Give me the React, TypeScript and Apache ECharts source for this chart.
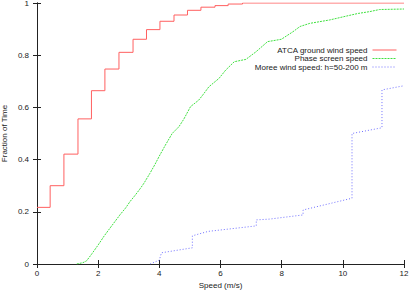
import React, { useEffect, useRef } from "react";
import * as echarts from "echarts";

const seriesNames = [
  "ATCA ground wind speed",
  "Phase screen speed",
  "Moree wind speed: h=50-200 m",
];

// ATCA ground wind speed: CDF steps [speed, fraction]
const atcaSteps: [number, number][] = [
  [0, 0.217], [0.43, 0.3], [0.88, 0.421], [1.34, 0.556], [1.78, 0.664],
  [2.22, 0.747], [2.68, 0.811], [3.14, 0.861], [3.58, 0.898], [4.02, 0.93],
  [4.48, 0.954], [4.92, 0.972], [5.36, 0.984], [5.82, 0.99], [6.25, 0.996],
  [6.72, 1.0], [12, 1.0],
];

// Phase screen speed CDF
const phaseScreen: [number, number][] = [
  [1.3, 0], [1.5, 0.005], [1.62, 0.012], [1.8, 0.04], [2.0, 0.073],
  [2.2, 0.108], [2.39, 0.138], [2.55, 0.163], [2.71, 0.188], [2.9, 0.215],
  [3.04, 0.239], [3.2, 0.262], [3.37, 0.288], [3.5, 0.31], [3.69, 0.347],
  [3.85, 0.38], [4.02, 0.418], [4.2, 0.456], [4.42, 0.5], [4.64, 0.526],
  [4.8, 0.555], [5.02, 0.603], [5.29, 0.628], [5.45, 0.652], [5.62, 0.679],
  [5.95, 0.711], [6.17, 0.743], [6.45, 0.775], [6.83, 0.784], [7.16, 0.813],
  [7.54, 0.852], [7.99, 0.861], [8.37, 0.89], [8.6, 0.91], [8.92, 0.922],
  [9.57, 0.935], [10.12, 0.95], [10.5, 0.96], [10.88, 0.967], [11.2, 0.975],
  [12, 0.977],
];

// Moree wind speed CDF
const moree: [number, number][] = [
  [3.7, 0], [4.0, 0.015], [4.07, 0.043], [5.08, 0.062], [5.08, 0.108],
  [5.6, 0.125], [7.17, 0.146], [7.17, 0.169], [7.6, 0.172], [8.7, 0.188],
  [8.7, 0.207], [10.3, 0.252], [10.3, 0.5], [11.28, 0.522], [11.28, 0.667],
  [12, 0.683],
];

const xTicks = { min: 0, max: 12, interval: 2 };
const yTicks = { min: 0, max: 1, interval: 0.2 };

const FONT = "Liberation Sans, Arial, Helvetica, sans-serif";
const TXT = "#1a1a1a";
const AX = "#222";

export default function App() {
  const ref = useRef<HTMLDivElement>(null);
  useEffect(() => {
    if (!ref.current) return;
    const chart = echarts.init(ref.current, undefined, { renderer: "svg" });
    const fmtY = (v: number) => (Math.round(v * 10) / 10).toString();
    chart.setOption({
      animation: false,
      textStyle: { fontFamily: FONT },
      grid: {
        left: 37,
        right: 5,
        top: 3,
        bottom: 26,
        containLabel: false,
        outerBoundsMode: "none",
      },
      legend: {
        orient: "vertical",
        right: 12,
        top: 46,
        align: "right",
        itemWidth: 24,
        itemHeight: 8,
        itemGap: 0.5,
        padding: 0,
        itemStyle: { opacity: 0 },
        lineStyle: { width: 1 },
        textStyle: { fontSize: 8, lineHeight: 8, color: TXT, fontFamily: FONT, padding: 0 },
        data: seriesNames,
      },
      xAxis: [
        {
          type: "value",
          position: "bottom",
          ...xTicks,
          name: "Speed (m/s)",
          nameLocation: "middle",
          nameGap: 15,
          nameTextStyle: { fontSize: 8, color: TXT, fontFamily: FONT },
          axisLine: { lineStyle: { color: AX, width: 1 } },
          axisTick: { inside: true, length: 4, lineStyle: { color: AX } },
          axisLabel: { fontSize: 8, color: TXT, margin: 5, fontFamily: FONT },
          splitLine: { show: false },
        },
        {
          type: "value",
          position: "top",
          ...xTicks,
          axisLine: { lineStyle: { color: AX, width: 1 } },
          axisTick: { inside: true, length: 4, lineStyle: { color: AX } },
          axisLabel: { show: false },
          splitLine: { show: false },
        },
      ],
      yAxis: [
        {
          type: "value",
          position: "left",
          ...yTicks,
          name: "Fraction of Time",
          nameLocation: "middle",
          nameGap: 28,
          nameMoveOverlap: false,
          nameTextStyle: { fontSize: 8, lineHeight: 9, color: TXT, fontFamily: FONT },
          axisLine: { show: true, lineStyle: { color: AX, width: 1 } },
          axisTick: { show: true, inside: true, length: 4, lineStyle: { color: AX } },
          axisLabel: { fontSize: 8, color: TXT, margin: 8, fontFamily: FONT, formatter: fmtY },
          splitLine: { show: false },
        },
        {
          type: "value",
          position: "right",
          ...yTicks,
          axisLine: { show: true, lineStyle: { color: AX, width: 1 } },
          axisTick: { show: true, inside: true, length: 4, lineStyle: { color: AX } },
          axisLabel: { show: false },
          splitLine: { show: false },
        },
      ],
      series: [
        {
          name: seriesNames[0],
          type: "line",
          step: "end",
          data: atcaSteps,
          showSymbol: false,
          symbol: "none",
          lineStyle: { color: "#ff6060", width: 1 },
          itemStyle: { color: "#ff6060" },
          z: 3,
        },
        {
          name: seriesNames[1],
          type: "line",
          data: phaseScreen,
          showSymbol: false,
          symbol: "none",
          lineStyle: { color: "#40e040", width: 1, type: [2, 1] },
          itemStyle: { color: "#40e040" },
          z: 2,
        },
        {
          name: seriesNames[2],
          type: "line",
          data: moree,
          showSymbol: false,
          symbol: "none",
          lineStyle: { color: "#7070ff", width: 1, type: [1, 2] },
          itemStyle: { color: "#7070ff" },
          z: 2,
        },
      ],
    });
    return () => chart.dispose();
  }, []);
  return (
    <div
      ref={ref}
      style={{ position: "fixed", left: 0, top: 0, width: 409, height: 290, background: "#fff" }}
    />
  );
}
